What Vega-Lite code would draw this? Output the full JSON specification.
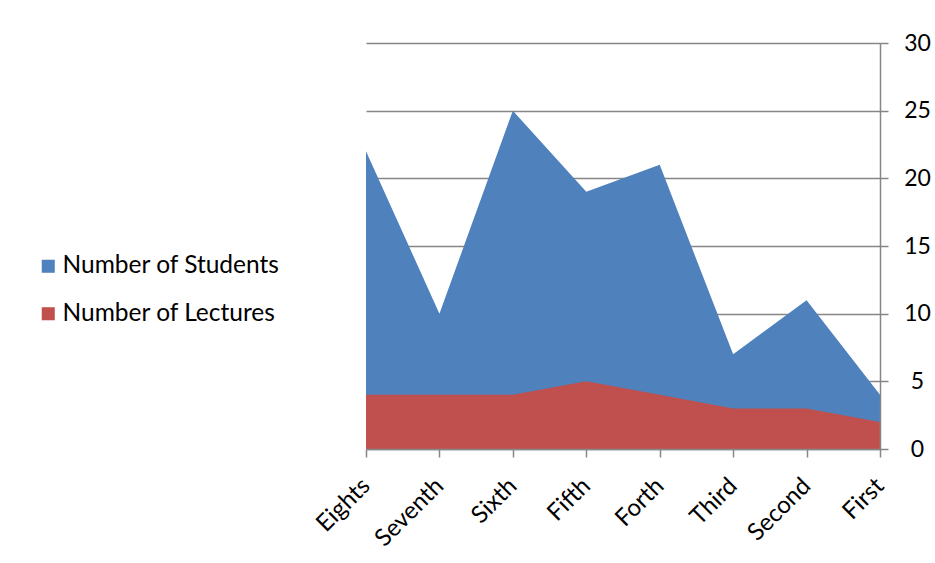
{
  "$schema": "https://vega.github.io/schema/vega-lite/v6.json",
  "width": 514,
  "height": 406,
  "autosize": {"type": "none"},
  "padding": {"left": 366, "top": 43, "right": 55, "bottom": 114},
  "background": "white",
  "config": {
    "view": {"stroke": null},
    "font": "Lato",
    "axis": {"labelFont": "Lato", "labelColor": "#000000"},
    "legend": {"labelFont": "Lato"}
  },
  "data": {
    "values": [
      {"level": "Eights", "series": "Number of Students", "value": 22},
      {"level": "Seventh", "series": "Number of Students", "value": 10},
      {"level": "Sixth", "series": "Number of Students", "value": 25},
      {"level": "Fifth", "series": "Number of Students", "value": 19},
      {"level": "Forth", "series": "Number of Students", "value": 21},
      {"level": "Third", "series": "Number of Students", "value": 7},
      {"level": "Second", "series": "Number of Students", "value": 11},
      {"level": "First", "series": "Number of Students", "value": 4},
      {"level": "Eights", "series": "Number of Lectures", "value": 4},
      {"level": "Seventh", "series": "Number of Lectures", "value": 4},
      {"level": "Sixth", "series": "Number of Lectures", "value": 4},
      {"level": "Fifth", "series": "Number of Lectures", "value": 5},
      {"level": "Forth", "series": "Number of Lectures", "value": 4},
      {"level": "Third", "series": "Number of Lectures", "value": 3},
      {"level": "Second", "series": "Number of Lectures", "value": 3},
      {"level": "First", "series": "Number of Lectures", "value": 2}
    ]
  },
  "encoding": {
    "x": {
      "field": "level",
      "type": "ordinal",
      "sort": ["Eights", "Seventh", "Sixth", "Fifth", "Forth", "Third", "Second", "First"],
      "scale": {"type": "point", "padding": 0},
      "axis": {
        "title": null,
        "zindex": 1,
        "labelAngle": -45,
        "labelAlign": "right",
        "labelBaseline": "middle",
        "labelFontSize": 24,
        "labelPadding": 25,
        "domainColor": "#868686",
        "domainWidth": 1.5,
        "tickColor": "#868686",
        "tickWidth": 1.5,
        "tickSize": 8
      }
    },
    "color": {
      "field": "series",
      "type": "nominal",
      "scale": {
        "domain": ["Number of Students", "Number of Lectures"],
        "range": ["#4F81BD", "#C0504D"]
      },
      "legend": {
        "title": null,
        "orient": "none",
        "legendX": -330,
        "legendY": 211,
        "symbolType": "square",
        "symbolSize": 170,
        "symbolStrokeWidth": 0,
        "symbolOpacity": 1,
        "labelFontSize": 24.5,
        "labelColor": "#000000",
        "labelLimit": 400,
        "labelOffset": 2,
        "rowPadding": 22.5
      }
    }
  },
  "layer": [
    {
      "transform": [{"filter": "datum.series === 'Number of Students'"}],
      "mark": {"type": "area", "opacity": 1, "interpolate": "linear"},
      "encoding": {
        "y": {
          "field": "value",
          "type": "quantitative",
          "scale": {"domain": [0, 30]},
          "axis": {
            "orient": "right",
            "title": null,
            "values": [0, 5, 10, 15, 20, 25, 30],
            "grid": true,
            "gridColor": "#868686",
            "gridWidth": 1.5,
            "domain": false,
            "ticks": false,
            "labels": false,
            "zindex": 0
          }
        }
      }
    },
    {
      "transform": [{"filter": "datum.series === 'Number of Lectures'"}],
      "mark": {"type": "area", "opacity": 1, "interpolate": "linear"},
      "encoding": {
        "y": {
          "field": "value",
          "type": "quantitative",
          "scale": {"domain": [0, 30]},
          "axis": {
            "orient": "right",
            "title": null,
            "values": [0, 5, 10, 15, 20, 25, 30],
            "grid": false,
            "domainColor": "#868686",
            "domainWidth": 1.5,
            "tickColor": "#868686",
            "tickWidth": 1.5,
            "tickSize": 8,
            "labelAlign": "center",
            "labelBaseline": "middle",
            "labelFontSize": 23,
            "labelPadding": 29,
            "zindex": 1
          }
        }
      }
    }
  ],
  "resolve": {"axis": {"y": "independent"}}
}
